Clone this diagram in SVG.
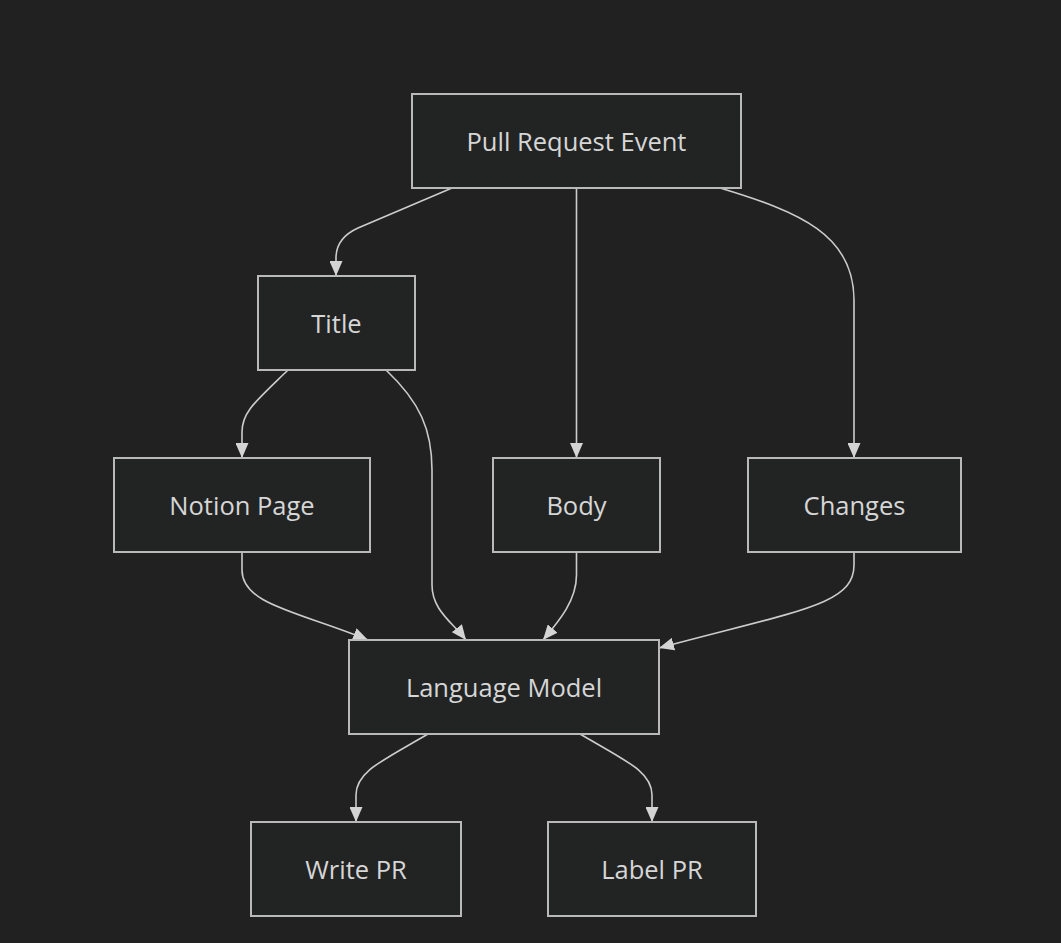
<svg xmlns="http://www.w3.org/2000/svg" width="1061" height="943" viewBox="0 0 1061 943">
<defs>
<style>
.node rect{fill:#222424;stroke:#b9b9b9;stroke-width:2}
.node text{font-family:"Open Sans","Noto Sans",sans-serif;font-size:25.5px;fill:#d6d6d6;text-anchor:middle;dominant-baseline:central}
.edge{fill:none;stroke:#cccccc;stroke-width:1.6}
</style>
<marker id="arr" viewBox="0 0 15 13" refX="15" refY="6.5" markerWidth="15" markerHeight="13" markerUnits="userSpaceOnUse" orient="auto">
<path d="M0,0 L15,6.5 L0,13 Z" fill="#d4d4d4"/>
</marker>
</defs>
<rect width="1061" height="943" fill="#212121"/>
<g id="connectors">
<path class="edge" marker-end="url(#arr)" d="M452,188 L358,228 Q336,238 336,258 L336,276"/>
<path class="edge" marker-end="url(#arr)" d="M576.5,188 L576.5,458"/>
<path class="edge" marker-end="url(#arr)" d="M720,188 C800,212 854,235 854,300 L854,458"/>
<path class="edge" marker-end="url(#arr)" d="M288,370 C255,402 242,412 242,432 L242,458"/>
<path class="edge" marker-end="url(#arr)" d="M386,370 C420,402 432,430 432,470 L432,585 C432,610 452,622 466,640"/>
<path class="edge" marker-end="url(#arr)" d="M242,552 L242,570 C242,605 300,612 368,640"/>
<path class="edge" marker-end="url(#arr)" d="M576.5,552 L576.5,575 C576.5,600 560,620 543,640"/>
<path class="edge" marker-end="url(#arr)" d="M854,552 L854,565 C854,605 800,610 659,648"/>
<path class="edge" marker-end="url(#arr)" d="M428,734 C380,762 356,772 356,795 L356,822"/>
<path class="edge" marker-end="url(#arr)" d="M580,734 C628,762 652,772 652,795 L652,822"/>
</g>
<g id="pull-request-event" class="node"><rect x="412" y="94" width="329" height="94"/><text x="576.5" y="141">Pull Request Event</text></g>
<g id="title" class="node"><rect x="258" y="276" width="157" height="94"/><text x="336.5" y="323">Title</text></g>
<g id="notion-page" class="node"><rect x="114" y="458" width="256" height="94"/><text x="242" y="505">Notion Page</text></g>
<g id="body" class="node"><rect x="493" y="458" width="167" height="94"/><text x="576.5" y="505">Body</text></g>
<g id="changes" class="node"><rect x="748" y="458" width="213" height="94"/><text x="854.5" y="505">Changes</text></g>
<g id="language-model" class="node"><rect x="349" y="640" width="310" height="94"/><text x="504" y="687">Language Model</text></g>
<g id="write-pr" class="node"><rect x="251" y="822" width="210" height="94"/><text x="356" y="869">Write PR</text></g>
<g id="label-pr" class="node"><rect x="548" y="822" width="208" height="94"/><text x="652" y="869">Label PR</text></g>
</svg>
